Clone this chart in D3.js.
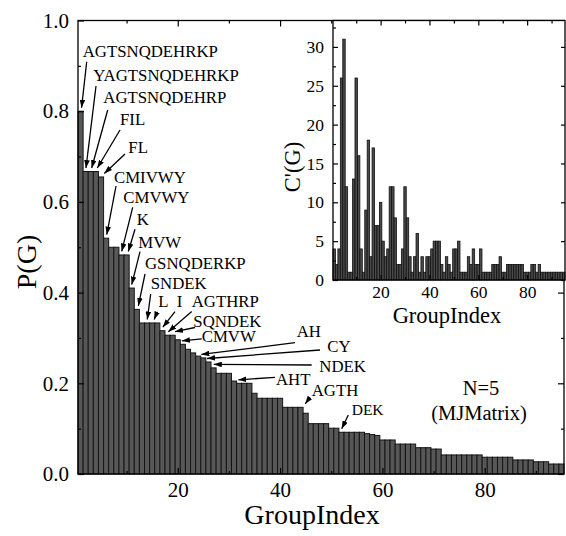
<!DOCTYPE html>
<html>
<head>
  <meta charset="utf-8">
  <title>P(G) groups</title>
  <script src="https://d3js.org/d3.v7.min.js"></script>
  <style>
    body { margin: 0; background: #fff; }
    text { font-family: "Liberation Serif", "Times New Roman", serif; fill: #000; }
  </style>
</head>
<body>
  <svg width="566" height="536" id="mainsvg"></svg>
  <script>
    // group index 1..95
    const groupIndex = d3.range(1, 96);
    // P(G) per group (main panel)
    const pValues = [0.8, 0.667, 0.667, 0.667, 0.655, 0.52, 0.5, 0.5, 0.483, 0.483,
      0.41, 0.363, 0.333, 0.333, 0.333, 0.333, 0.316, 0.306, 0.306, 0.296,
      0.286, 0.275, 0.267, 0.26, 0.256, 0.247, 0.234, 0.222, 0.222, 0.222,
      0.205, 0.2, 0.2, 0.2, 0.178, 0.167, 0.167, 0.167, 0.167, 0.167,
      0.147, 0.147, 0.147, 0.147, 0.134, 0.111, 0.111, 0.111, 0.111, 0.101,
      0.101, 0.092, 0.092, 0.092, 0.092, 0.092, 0.089, 0.087, 0.085, 0.075,
      0.075, 0.075, 0.066, 0.066, 0.066, 0.066, 0.058, 0.058, 0.058, 0.055,
      0.055, 0.042, 0.042, 0.042, 0.042, 0.042, 0.042, 0.042, 0.042, 0.037,
      0.037, 0.037, 0.037, 0.037, 0.037, 0.031, 0.031, 0.031, 0.031, 0.027,
      0.027, 0.027, 0.022, 0.022, 0.022];
    // C'(G) per group (inset)
    const cValues = [4, 2, 4, 26, 31, 12, 1, 1, 13, 26,
      16, 4, 1, 9, 18, 3, 17, 7, 7, 10,
      5, 3, 4, 12, 12, 8, 2, 2, 4, 12,
      8, 3, 1, 3, 6, 1, 3, 1, 3, 3,
      4, 5, 5, 5, 2, 1, 3, 2, 1, 4,
      4, 5, 1, 1, 1, 3, 2, 4, 2, 2,
      4, 1, 1, 1, 1, 2, 2, 2, 3, 1,
      1, 2, 2, 2, 2, 2, 2, 2, 1, 1,
      1, 2, 2, 1, 2, 1, 1, 1, 1, 1,
      1, 1, 1, 1, 1];

    const mainXTicks = [20, 40, 60, 80];
    const mainXMinor = [10, 30, 50, 70, 90];
    const mainYTicks = [0, 0.2, 0.4, 0.6, 0.8, 1.0];
    const mainYMinor = [0.1, 0.3, 0.5, 0.7, 0.9];
    const insetXTicks = [20, 40, 60, 80];
    const insetXMinor = [10, 30, 50, 70, 90];
    const insetYTicks = [0, 5, 10, 15, 20, 25, 30];
    const insetYMinor = [2.5, 7.5, 12.5, 17.5, 22.5, 27.5, 32.5];

    // annotation names and the group each one points at
    const annLabels = ['AGTSNQDEHRKP', 'YAGTSNQDEHRKP', 'AGTSNQDEHRP', 'FIL', 'FL', 'CMIVWY', 'CMVWY', 'K', 'MVW',
      'GSNQDERKP', 'SNDEK', 'L', 'I', 'AGTHRP', 'SQNDEK', 'CMVW', 'AH', 'CY', 'NDEK', 'AHT', 'AGTH', 'DEK'];
    const annBars = [1, 2, 3, 4, 5, 6, 9, 10, 11, 12, 14, 15, 17, 18, 19, 21, 25, 26, 27, 32, 44, 52];
    // layout: text x, text baseline, arrow tail x, tail y, tip offset from bar centre
    const annLayout = [
      [82.7, 57.3, 86.7, 61.7, 1], [93.3, 81, 96, 86, 0.3], [103.3, 103.3, 107.7, 110, 0.9],
      [120, 125, 120, 130, 1.4], [128.3, 153.3, 125, 154, 3.3], [114, 182.7, 116, 186, 0.6],
      [123.3, 202.7, 132.7, 207.3, 0.2], [136.7, 225, 135, 229.3, 1.7], [138.3, 248.3, 140, 251.7, 0],
      [145, 269.3, 145, 274, 1.5], [150.7, 289.3, 150.7, 294, 0.2], [158.3, 307.3, 157.3, 311.7, 2],
      [176.7, 307.3, 175, 311.7, 0.4], [191.7, 307, 191.7, 311.4, 0.8], [193.3, 327, 195, 327.5, 2.4],
      [201.7, 342.2, 201.7, 338.8, -1], [296.7, 336.7, 295, 342.7, -2], [327.3, 351.7, 320, 350, -1.4],
      [319.3, 371.7, 311.7, 365, 0.2], [276, 385, 275, 377.3, -0.8], [311.7, 396, 310, 397.3, 4.7],
      [351.7, 415, 348.3, 415, 0.2]
    ];

    const svg = d3.select('#mainsvg');
    const main = { left: 78, right: 564, top: 20.5, bottom: 474 };
    const inset = { left: 333, right: 565, top: 20.5, bottom: 280 };

    const xScale = d3.scaleLinear().domain([0.5, 95.5]).range([main.left, main.right]);
    const yScale = d3.scaleLinear().domain([0, 1]).range([main.bottom, main.top]);
    const xIn = d3.scaleLinear().domain([0.5, 95.5]).range([inset.left, inset.right]);
    const yIn = d3.scaleLinear().domain([0, 33.4]).range([inset.bottom, inset.top]);

    svg.append('defs').append('marker')
      .attr('id', 'head')
      .attr('viewBox', '0 0 10 7')
      .attr('refX', 10).attr('refY', 3.5)
      .attr('markerUnits', 'userSpaceOnUse')
      .attr('markerWidth', 8).attr('markerHeight', 5.6)
      .attr('orient', 'auto')
      .append('path').attr('d', 'M0,0 L10,3.5 L0,7 Z').attr('fill', '#000');

    // draws a tick-only axis (no domain line)
    const tickAxis = (g, axis, fontSize) => {
      g.call(axis);
      g.select('.domain').remove();
      g.selectAll('line').attr('stroke', '#000').attr('stroke-width', 1.2);
      g.attr('font-family', null).attr('font-size', fontSize);
      g.selectAll('text').attr('fill', '#000');
    };

    // ---- main panel ----
    const gMain = svg.append('g');
    const bw = xScale(1) - xScale(0);
    gMain.append('g').selectAll('rect').data(pValues).join('rect')
      .attr('x', (d, i) => xScale(groupIndex[i] - 0.5))
      .attr('width', bw)
      .attr('y', d => yScale(d))
      .attr('height', d => yScale(0) - yScale(d))
      .attr('fill', '#575757')
      .attr('stroke', '#151515')
      .attr('stroke-width', 1);

    gMain.append('g').attr('transform', `translate(0,${main.bottom})`)
      .call(tickAxis, d3.axisBottom(xScale).tickValues(mainXTicks).tickSize(-6).tickPadding(8).tickFormat(d3.format('d')), 21);
    gMain.append('g').attr('transform', `translate(0,${main.bottom})`)
      .call(tickAxis, d3.axisBottom(xScale).tickValues(mainXMinor).tickSize(-3).tickFormat(''), 21);
    gMain.append('g').attr('transform', `translate(0,${main.top})`)
      .call(tickAxis, d3.axisTop(xScale).tickValues(mainXTicks).tickSize(-6).tickFormat(''), 21);
    gMain.append('g').attr('transform', `translate(0,${main.top})`)
      .call(tickAxis, d3.axisTop(xScale).tickValues(mainXMinor).tickSize(-3).tickFormat(''), 21);
    gMain.append('g').attr('transform', `translate(${main.left},0)`)
      .call(tickAxis, d3.axisLeft(yScale).tickValues(mainYTicks).tickSize(-6).tickPadding(9).tickFormat(d3.format('.1f')), 21);
    gMain.append('g').attr('transform', `translate(${main.left},0)`)
      .call(tickAxis, d3.axisLeft(yScale).tickValues(mainYMinor).tickSize(-3).tickFormat(''), 21);
    gMain.append('g').attr('transform', `translate(${main.right},0)`)
      .call(tickAxis, d3.axisRight(yScale).tickValues(mainYTicks).tickSize(-6).tickFormat(''), 21);
    gMain.append('g').attr('transform', `translate(${main.right},0)`)
      .call(tickAxis, d3.axisRight(yScale).tickValues(mainYMinor).tickSize(-3).tickFormat(''), 21);

    gMain.append('rect')
      .attr('x', main.left).attr('y', main.top)
      .attr('width', main.right - main.left).attr('height', main.bottom - main.top)
      .attr('fill', 'none').attr('stroke', '#000').attr('stroke-width', 1.3);

    gMain.append('text')
      .attr('x', (main.left + main.right) / 2 - 9).attr('y', 524)
      .attr('text-anchor', 'middle').attr('font-size', 28)
      .text('GroupIndex');
    gMain.append('text')
      .attr('transform', 'translate(36,262) rotate(-90)')
      .attr('text-anchor', 'middle').attr('font-size', 28)
      .text('P(G)');

    // annotations
    const ann = gMain.append('g');
    annLabels.forEach((lab, k) => {
      const [tx, ty, ax, ay, dx] = annLayout[k];
      const b = annBars[k];
      ann.append('line')
        .attr('x1', ax).attr('y1', ay)
        .attr('x2', xScale(b) + dx).attr('y2', yScale(pValues[b - 1]) - 3.5)
        .attr('stroke', '#000').attr('stroke-width', 1.3)
        .attr('marker-end', 'url(#head)');
      ann.append('text')
        .attr('x', tx).attr('y', ty)
        .attr('font-size', lab === 'DEK' ? 15.5 : 16.8)
        .text(lab);
    });

    gMain.append('text').attr('x', 481).attr('y', 395)
      .attr('text-anchor', 'middle').attr('font-size', 20.5).text('N=5');
    gMain.append('text').attr('x', 479).attr('y', 420)
      .attr('text-anchor', 'middle').attr('font-size', 20.5).text('(MJMatrix)');

    // ---- inset ----
    const gIn = svg.append('g');
    gIn.append('rect')
      .attr('x', inset.left).attr('y', inset.top)
      .attr('width', inset.right - inset.left).attr('height', inset.bottom - inset.top)
      .attr('fill', '#fff');
    const bwIn = xIn(1) - xIn(0);
    gIn.append('g').selectAll('rect').data(cValues).join('rect')
      .attr('x', (d, i) => xIn(groupIndex[i] - 0.5))
      .attr('width', bwIn)
      .attr('y', d => yIn(d))
      .attr('height', d => yIn(0) - yIn(d))
      .attr('fill', '#4a4a4a')
      .attr('stroke', '#111')
      .attr('stroke-width', 0.8);

    gIn.append('g').attr('transform', `translate(0,${inset.bottom})`)
      .call(tickAxis, d3.axisBottom(xIn).tickValues(insetXTicks).tickSize(-5).tickPadding(6).tickFormat(d3.format('d')), 17.5);
    gIn.append('g').attr('transform', `translate(0,${inset.bottom})`)
      .call(tickAxis, d3.axisBottom(xIn).tickValues(insetXMinor).tickSize(-3).tickFormat(''), 17.5);
    gIn.append('g').attr('transform', `translate(0,${inset.top})`)
      .call(tickAxis, d3.axisTop(xIn).tickValues(insetXTicks).tickSize(-5).tickFormat(''), 17.5);
    gIn.append('g').attr('transform', `translate(0,${inset.top})`)
      .call(tickAxis, d3.axisTop(xIn).tickValues(insetXMinor).tickSize(-3).tickFormat(''), 17.5);
    gIn.append('g').attr('transform', `translate(${inset.left},0)`)
      .call(tickAxis, d3.axisLeft(yIn).tickValues(insetYTicks).tickSize(-5).tickPadding(9).tickFormat(d3.format('d')), 17.5);
    gIn.append('g').attr('transform', `translate(${inset.left},0)`)
      .call(tickAxis, d3.axisLeft(yIn).tickValues(insetYMinor).tickSize(-3).tickFormat(''), 17.5);
    gIn.append('g').attr('transform', `translate(${inset.right},0)`)
      .call(tickAxis, d3.axisRight(yIn).tickValues(insetYTicks).tickSize(-4).tickFormat(''), 17.5);

    gIn.append('rect')
      .attr('x', inset.left).attr('y', inset.top)
      .attr('width', inset.right - inset.left).attr('height', inset.bottom - inset.top)
      .attr('fill', 'none').attr('stroke', '#000').attr('stroke-width', 1.3);

    gIn.append('text')
      .attr('x', 447).attr('y', 323)
      .attr('text-anchor', 'middle').attr('font-size', 22.5)
      .text('GroupIndex');
    gIn.append('text')
      .attr('transform', 'translate(300,167) rotate(-90)')
      .attr('text-anchor', 'middle').attr('font-size', 22.5)
      .text("C'(G)");
  </script>
</body>
</html>
